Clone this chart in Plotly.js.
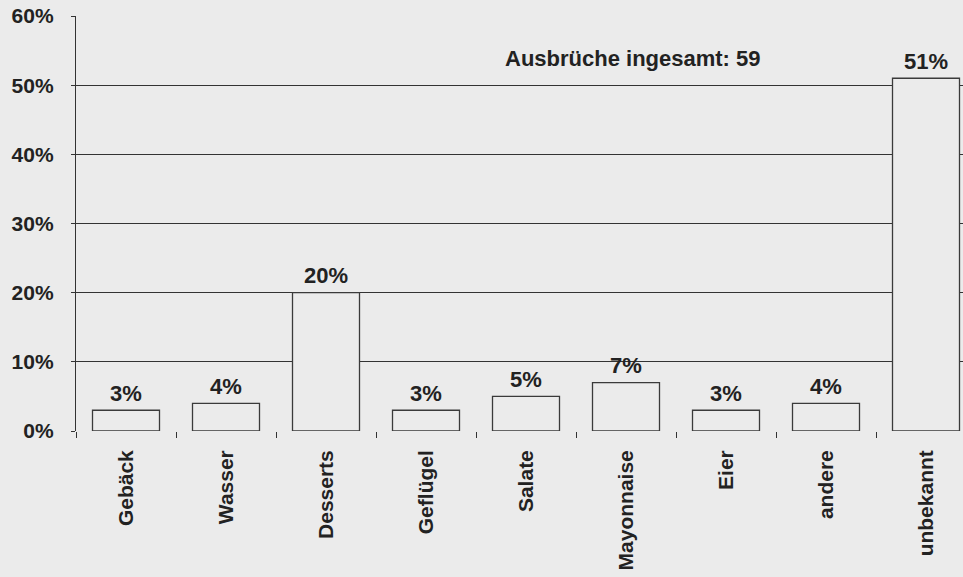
<!DOCTYPE html>
<html>
<head>
<meta charset="utf-8">
<script src="https://cdn.plot.ly/plotly-3.0.1.min.js"></script>
<style>html,body{margin:0;padding:0;background:#ebebeb;}#chart{width:963px;height:577px;}</style>
</head>
<body>
<div id="chart"></div>
<script>
const categories = ["Gebäck", "Wasser", "Desserts", "Geflügel", "Salate", "Mayonnaise", "Eier", "andere", "unbekannt"];
const values = [3, 4, 20, 3, 5, 7, 3, 4, 51];
const valueLabels = ["3%", "4%", "20%", "3%", "5%", "7%", "3%", "4%", "51%"];
const yTicks = [0, 10, 20, 30, 40, 50, 60];
const yTickLabels = ["0%", "10%", "20%", "30%", "40%", "50%", "60%"];
const noteText = "Ausbrüche ingesamt: 59";

const bg = "#ebebeb";
const ink = "#222222";
const family = "Liberation Sans, Arial, Helvetica, sans-serif";
const fnt = {family: family, size: 22, color: ink, weight: "bold"};
const xfnt = {family: family, size: 21, color: ink, weight: "bold"};
const yfnt = {family: family, size: 21, color: ink, weight: "bold"};

const trace = {
  type: "bar",
  x: categories,
  y: values,
  width: 0.67,
  marker: {color: bg, line: {color: "#3a3a3a", width: 1.3}},
  hoverinfo: "none"
};

const annotations = categories.map((c, i) => ({
  x: c, y: values[i], xref: "x", yref: "y",
  text: valueLabels[i], showarrow: false,
  yanchor: "middle", yshift: 17,
  font: fnt
}));
annotations.push({
  x: 5.07, y: 53.8, xref: "x", yref: "y",
  text: noteText, showarrow: false,
  xanchor: "center", yanchor: "middle",
  font: fnt
});

const layout = {
  width: 963, height: 577,
  margin: {l: 76, r: 0, t: 16, b: 146},
  paper_bgcolor: bg, plot_bgcolor: bg,
  showlegend: false,
  bargap: 0.33,
  xaxis: {
    type: "category",
    range: [-0.5, 8.37],
    showgrid: false,
    showline: false,
    zeroline: false,
    ticks: "outside", ticklen: 6, tickcolor: "#333", tickwidth: 1,
    tickson: "boundaries",
    tickangle: -90,
    ticklabelstandoff: 14,
    tickfont: xfnt
  },
  yaxis: {
    range: [0, 60],
    tickvals: yTicks, ticktext: yTickLabels,
    showgrid: true, gridcolor: "#333333", gridwidth: 1.2,
    zeroline: false,
    showline: true, linecolor: "#333333", linewidth: 1.2,
    ticks: "outside", ticklen: 4, tickcolor: "#333", tickwidth: 1,
    ticklabelstandoff: 13,
    tickfont: yfnt
  },
  annotations: annotations
};

Plotly.newPlot("chart", [trace], layout, {displayModeBar: false, staticPlot: true});
</script>
</body>
</html>
